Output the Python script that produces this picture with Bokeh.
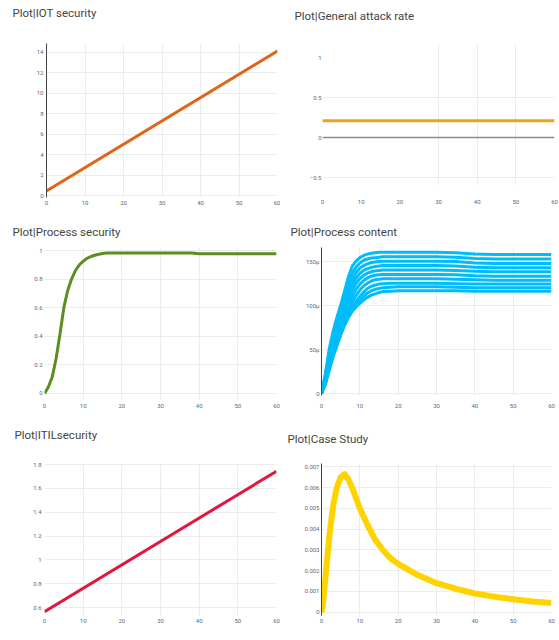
from bokeh.plotting import figure
from bokeh.layouts import column, row
from bokeh.models import FixedTicker, Range1d, Span, Grid
from bokeh.embed import file_html
from bokeh.resources import INLINE

# ---------------- data ----------------
x_ticks = [0, 10, 20, 30, 40, 50, 60]

# IOT security
iot_x = [0, 60]
iot_y = [0.45, 14.1]
iot_yticks = [0, 2, 4, 6, 8, 10, 12, 14]

# General attack rate
gar_x = [0, 60]
gar_y = [0.21, 0.21]
gar_yticks = [-0.5, 0, 0.5, 1]
gar_ylabels = ["−0.5", "0", "0.5", "1"]

# Process security
ps_x = [0, 1, 2, 3, 4, 5, 6, 7, 8, 9, 10, 11, 12, 13, 14, 15, 16, 18, 20, 25, 30, 35, 38, 40, 45, 50, 55, 60]
ps_y = [0, 0.045, 0.115, 0.245, 0.415, 0.6, 0.72, 0.8, 0.86, 0.9, 0.925, 0.945, 0.958, 0.967, 0.974, 0.979,
        0.982, 0.983, 0.983, 0.983, 0.983, 0.983, 0.983, 0.977, 0.977, 0.977, 0.977, 0.977]
ps_yticks = [0, 0.2, 0.4, 0.6, 0.8, 1]

# Process content (values in micro-units)
pc_x = [0, 1, 2, 3, 4, 5, 6, 7, 8, 9, 10, 11, 12, 13, 14, 15, 16, 18, 20, 25, 30, 35, 40, 45, 50, 55, 60]
pc_1 = [0, 22, 50, 70, 86, 100, 116, 132, 144, 150, 154, 156.5, 158, 159, 159.5, 160, 160, 160, 160, 160, 160, 159.5, 158, 157.5, 157.5, 157.5, 157.5]
pc_2 = [0, 20, 47, 66, 81, 95, 110, 125, 136, 143, 148, 151, 152.5, 153.5, 154, 154.5, 155, 155, 155, 155, 155, 154.5, 153, 152.5, 152.5, 152.5, 152.5]
pc_3 = [0, 18, 44, 62, 77, 90, 104, 118, 129, 137, 142, 145, 147, 148.5, 149, 149.5, 150, 150, 150, 150, 150, 149.5, 148, 147.5, 147.5, 147.5, 147.5]
pc_4 = [0, 17, 41, 58, 73, 86, 99, 112, 123, 131, 136, 139.5, 141.5, 143, 144, 144.5, 145, 145, 145, 145, 145, 144.5, 143, 142.5, 142.5, 142.5, 142.5]
pc_5 = [0, 15, 38, 54, 69, 82, 94, 106, 117, 125, 130, 134, 136.5, 138, 139, 139.5, 140, 140, 140, 140, 140, 139.5, 138.5, 138, 138, 138, 138]
pc_6 = [0, 14, 35, 51, 65, 77, 89, 100, 110, 118, 124, 128, 131, 133, 134, 134.5, 135, 135, 135, 135, 135, 134.5, 133.5, 133, 133, 133, 133]
pc_7 = [0, 13, 32, 48, 61, 73, 84, 94, 103, 111, 117, 122, 125, 127.5, 129, 129.5, 130, 130, 130, 130, 130, 129.5, 129, 128.5, 128.5, 128.5, 128.5]
pc_8 = [0, 12, 30, 45, 58, 70, 80, 89, 97, 104, 110, 115, 119, 121.5, 123, 124, 124.5, 125, 125, 125, 125, 124.5, 124, 124, 124, 124, 124]
pc_9 = [0, 11, 28, 43, 56, 68, 78, 87, 95, 101, 106, 110, 114, 116.5, 118, 119, 120, 120.5, 121, 121, 121, 120.5, 120, 120, 120, 120, 120]
pc_10 = [0, 10, 26, 41, 54, 66, 77, 86, 93, 98, 102, 106, 109, 111.5, 113, 114.5, 115.5, 116, 116.5, 116.5, 116.5, 116.5, 116, 116, 116, 116, 116]
pc_series = [pc_1, pc_2, pc_3, pc_4, pc_5, pc_6, pc_7, pc_8, pc_9, pc_10]
pc_yticks = [0, 50, 100, 150]
pc_ylabels = ["0", "50μ", "100μ", "150μ"]

# ITIL security
itil_x = [0, 60]
itil_y = [0.565, 1.745]
itil_yticks = [0.6, 0.8, 1, 1.2, 1.4, 1.6, 1.8]

# Case study
cs_x = [0, 0.3, 1, 2, 3, 4, 5, 6, 7, 8, 9, 10, 12, 14, 16, 18, 20, 25, 30, 35, 40, 45, 50, 55, 60]
cs_y = [0, 0.0003, 0.0016, 0.0036, 0.0051, 0.006, 0.0065, 0.00665, 0.0064, 0.006, 0.0055, 0.005, 0.0042,
        0.0035, 0.003, 0.0026, 0.00233, 0.0018, 0.0014, 0.00113, 0.0009, 0.00075, 0.00062, 0.00052, 0.00044]
cs_yticks = [0, 0.001, 0.002, 0.003, 0.004, 0.005, 0.006, 0.007]
cs_ylabels = ["0", "0.001", "0.002", "0.003", "0.004", "0.005", "0.006", "0.007"]

TICK_COLOR = "#5c6783"
GRID_COLOR = "#ececec"


def title_fig(text, width, height, offset):
    # a frameless strip whose only content is the panel title (drawn just below its empty frame)
    t = figure(width=width, height=height, title=text, title_location="below",
               x_axis_location=None, y_axis_location=None, toolbar_location=None,
               output_backend="svg", min_border=0)
    t.outline_line_color = None
    t.grid.grid_line_color = None
    t.title.text_font = "Roboto"
    t.title.text_font_size = "11.5px"
    t.title.text_font_style = "normal"
    t.title.text_color = "#444444"
    t.title.vertical_align = "top"
    t.title.standoff = 0
    t.title.offset = offset
    return t


def make_fig(width, height, xr, yr, borders, yticks, xstand=3, ystand=3, yaxis_line=False, grid=True):
    bl, br, bt, bb = borders
    p = figure(width=width, height=height, x_range=Range1d(*xr), y_range=Range1d(*yr),
               output_backend="svg", toolbar_location=None,
               min_border_left=bl, min_border_right=br, min_border_top=bt, min_border_bottom=bb)
    p.outline_line_color = None
    p.background_fill_color = "white"
    p.border_fill_color = "white"
    xax = p.below[0]
    yax = p.left[0]
    for ax, ticks, st in ((xax, x_ticks, xstand), (yax, yticks, ystand)):
        ax.ticker = FixedTicker(ticks=ticks)
        ax.major_label_text_font = "Roboto"
        ax.major_label_text_font_size = "6px"
        ax.major_label_text_color = TICK_COLOR
        ax.major_tick_line_color = None
        ax.minor_tick_line_color = None
        ax.major_tick_in = 0
        ax.major_tick_out = 0
        ax.minor_tick_in = 0
        ax.minor_tick_out = 0
        ax.major_label_standoff = st
        ax.axis_line_color = None
    if yaxis_line:
        yax.axis_line_color = "#444444"
        yax.axis_line_width = 1
    for g in p.xgrid + p.ygrid:
        g.grid_line_color = GRID_COLOR if grid else None
    return p, xax, yax


# ---- Panel 1: IOT security ----
t1 = title_fig("Plot|IOT security", 280, 21, -34)
p1, x1, y1 = make_fig(280, 194, (0, 60), (-0.195, 14.83), (46, 3, 22, 18),
                      iot_yticks, xstand=3, ystand=3, yaxis_line=True)
p1.line(iot_x, iot_y, line_color="#de661c", line_width=3)

# ---- Panel 2: General attack rate ----
t2 = title_fig("Plot|General attack rate", 279, 24, -28)
p2, x2, y2 = make_fig(279, 191, (0, 60), (-0.6, 1.175), (42, 5, 19, 30),
                      gar_yticks, xstand=14, ystand=1, grid=False)
y2.major_label_overrides = {t: l for t, l in zip(gar_yticks, gar_ylabels)}
p2.add_layout(Grid(dimension=0, ticker=FixedTicker(ticks=[30, 40, 50]), grid_line_color=GRID_COLOR))
p2.add_layout(Grid(dimension=1, ticker=FixedTicker(ticks=[-0.5, 0.5]), grid_line_color=GRID_COLOR))
p2.add_layout(Span(location=0, dimension="width", line_color="#8c8c8c", line_width=1.5))
p2.line(gar_x, gar_y, line_color="#e9a219", line_width=3)

# ---- Panel 3: Process security ----
t3 = title_fig("Plot|Process security", 280, 25, -32)
p3, x3, y3 = make_fig(280, 180, (0, 60), (-0.049, 1.021), (44, 4, 7, 20),
                      ps_yticks, xstand=3, ystand=2)
p3.line(ps_x, ps_y, line_color="#5d8c21", line_width=3)

# ---- Panel 4: Process content ----
t4 = title_fig("Plot|Process content", 279, 25, -31)
p4, x4, y4 = make_fig(279, 180, (0, 60), (-2.27, 165.5), (41, 8, 7, 25),
                      pc_yticks, xstand=8, ystand=2, yaxis_line=True)
y4.major_label_overrides = {t: l for t, l in zip(pc_yticks, pc_ylabels)}
for s in pc_series:
    p4.line(pc_x, s, line_color="#00bcfa", line_width=3)

# ---- Panel 5: ITIL security ----
t5 = title_fig("Plot|ITILsecurity", 280, 23, -30)
p5, x5, y5 = make_fig(280, 197, (0, 60), (0.533, 1.81), (44, 4, 20, 25),
                      itil_yticks, xstand=3, ystand=3)
p5.line(itil_x, itil_y, line_color="#e0183e", line_width=3)

# ---- Panel 6: Case Study ----
t6 = title_fig("Plot|Case Study", 279, 27, -34)
p6, x6, y6 = make_fig(279, 193, (0, 60), (-0.000159, 0.007163), (41, 8, 16, 25),
                      cs_yticks, xstand=3, ystand=2, yaxis_line=True)
y6.major_label_overrides = {t: l for t, l in zip(cs_yticks, cs_ylabels)}
p6.line(cs_x, cs_y, line_color="#ffd300", line_width=6, line_join="round")

layout = column(
    row(column(t1, p1), column(t2, p2)),
    row(column(t3, p3), column(t4, p4)),
    row(column(t5, p5), column(t6, p6)),
)

open("out.html", "w").write(file_html(layout, INLINE))
